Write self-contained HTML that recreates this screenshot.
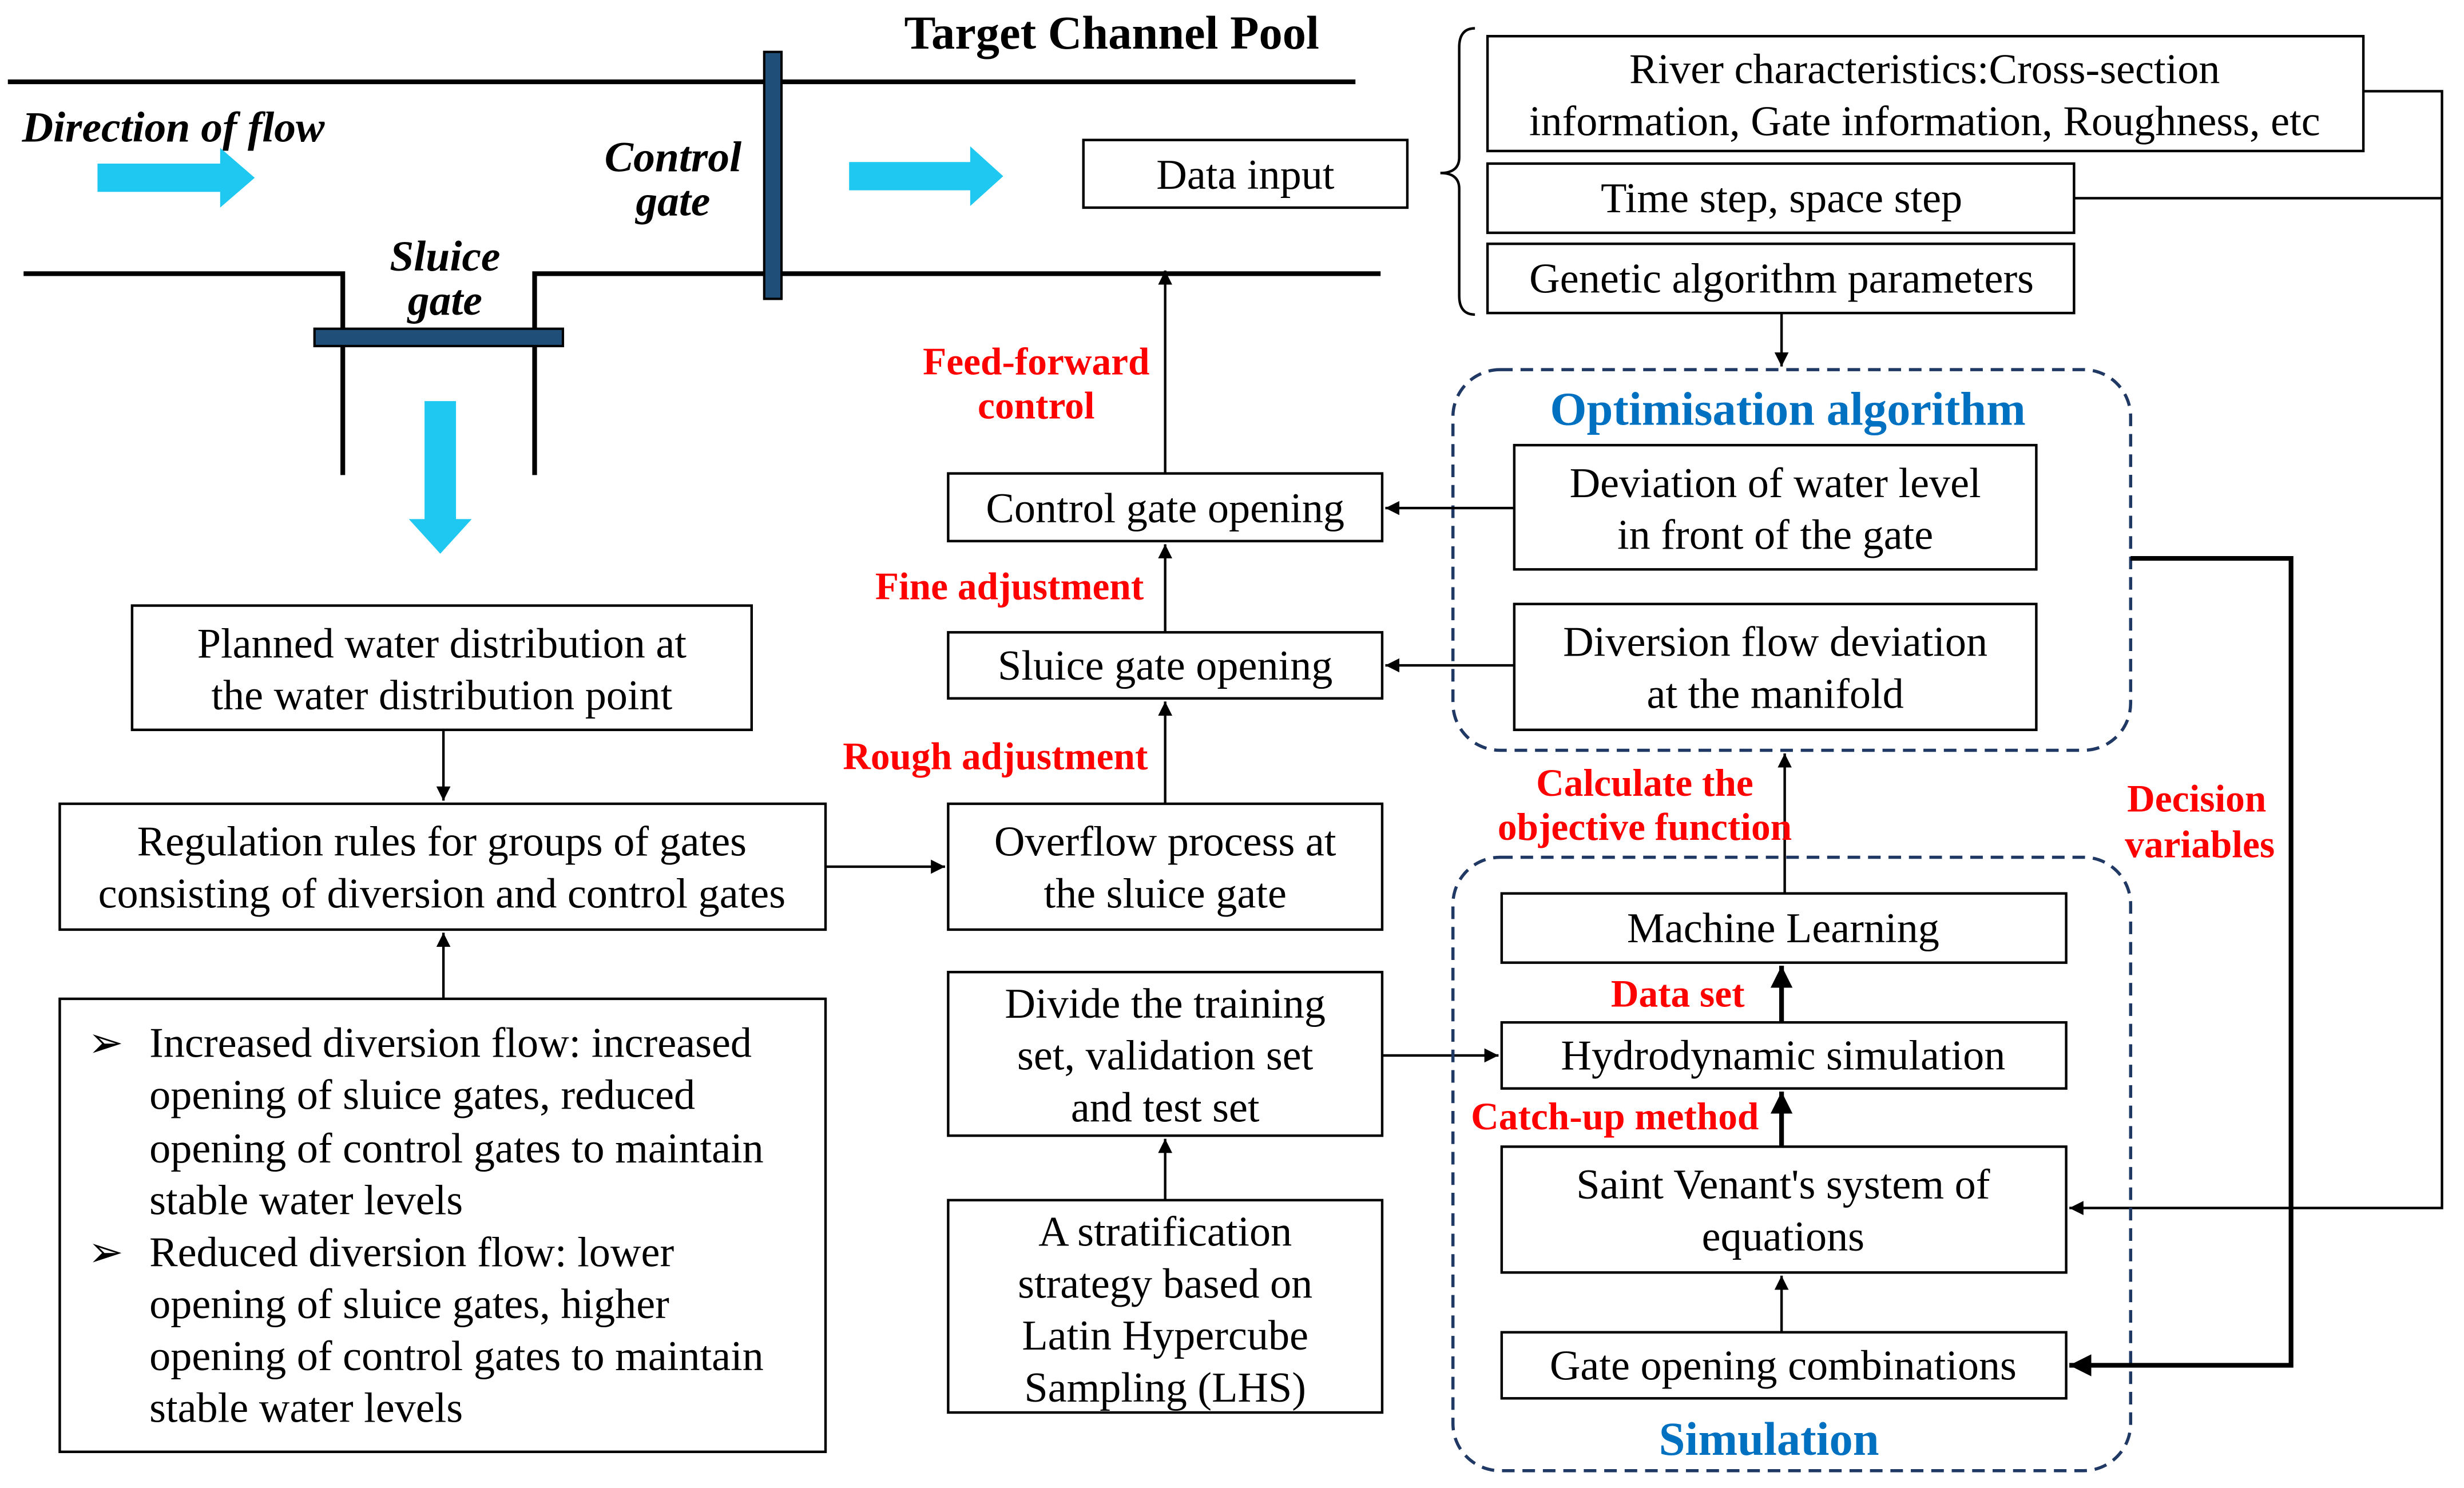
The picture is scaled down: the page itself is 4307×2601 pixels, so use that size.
<!DOCTYPE html>
<html><head><meta charset="utf-8"><style>
html,body{margin:0;padding:0;background:#fff}
svg{display:block}
text{font-family:"Liberation Serif",serif;fill:#000}
.t{font-size:27px;text-anchor:middle}
.r{font-size:24.5px;font-weight:bold;fill:#ff0000;text-anchor:middle}
.b{fill:#fff;stroke:#000;stroke-width:1.6}
.l{stroke:#000;stroke-width:1.6;fill:none}
</style></head><body>
<svg width="4307" height="2601" viewBox="0 0 1567 946" preserveAspectRatio="none" xmlns="http://www.w3.org/2000/svg">
<defs>
<marker id="a" viewBox="0 0 10 10" refX="10" refY="5" markerWidth="9" markerHeight="9" markerUnits="userSpaceOnUse" orient="auto"><path d="M0,0L10,5L0,10z" fill="#000"/></marker>
<marker id="a2" viewBox="0 0 10 10" refX="10" refY="5" markerWidth="14" markerHeight="14" markerUnits="userSpaceOnUse" orient="auto"><path d="M0,0L10,5L0,10z" fill="#000"/></marker>
</defs>
<rect width="1567" height="946" fill="#fff"/>
<text x="707" y="31" font-size="30" font-weight="bold" text-anchor="middle">Target Channel Pool</text>
<line x1="5" y1="52" x2="862" y2="52" stroke="#000" stroke-width="3"/>
<text x="14" y="90" font-size="27.5" font-weight="bold" font-style="italic">Direction of flow</text>
<path d="M62,104H140V94L162,113L140,132V122H62z" fill="#1ec8f0"/>
<path d="M540,103H617V93L638,112L617,131V121H540z" fill="#1ec8f0"/>
<path d="M15,174H218V302M340,302V174H878" stroke="#000" stroke-width="3" fill="none"/>
<rect x="486" y="33" width="11" height="157" fill="#1f4e79" stroke="#000" stroke-width="1.5"/>
<rect x="200" y="209" width="158" height="11" fill="#1f4e79" stroke="#000" stroke-width="1.5"/>
<text x="428" y="109" font-size="27.5" font-weight="bold" font-style="italic" text-anchor="middle">Control</text>
<text x="428" y="137" font-size="27.5" font-weight="bold" font-style="italic" text-anchor="middle">gate</text>
<text x="283" y="172" font-size="27.5" font-weight="bold" font-style="italic" text-anchor="middle">Sluice</text>
<text x="283" y="200" font-size="27.5" font-weight="bold" font-style="italic" text-anchor="middle">gate</text>
<path d="M270,255H290V330H300L280,352L260,330H270z" fill="#1ec8f0"/>

<rect class="b" x="689" y="89" width="206" height="43"/><text class="t" x="792" y="120">Data input</text>
<path class="l" d="M938,18Q928,18 928,30V100Q928,110 916,110Q928,110 928,120V188Q928,200 938,200"/>
<rect class="b" x="946" y="23" width="557" height="73"/>
<text class="t" x="1224" y="53">River characteristics:Cross-section</text>
<text class="t" x="1224" y="86">information, Gate information, Roughness, etc</text>
<rect class="b" x="946" y="104" width="373" height="44"/><text class="t" x="1133" y="135">Time step, space step</text>
<rect class="b" x="946" y="155" width="373" height="44"/><text class="t" x="1133" y="186">Genetic algorithm parameters</text>
<path class="l" d="M1503,58H1553V768H1316" marker-end="url(#a)"/>
<path class="l" d="M1319,126H1553"/>
<path class="l" d="M1133,199V233" marker-end="url(#a)"/>

<rect x="924" y="235" width="431" height="242" rx="30" fill="none" stroke="#1f3864" stroke-width="2" stroke-dasharray="8,5"/>
<text x="1137" y="270" font-size="30" font-weight="bold" text-anchor="middle" style="fill:#0070c0">Optimisation algorithm</text>
<rect class="b" x="963" y="283" width="332" height="79"/>
<text class="t" x="1129" y="316">Deviation of water level</text><text class="t" x="1129" y="349">in front of the gate</text>
<rect class="b" x="963" y="384" width="332" height="80"/>
<text class="t" x="1129" y="417">Diversion flow deviation</text><text class="t" x="1129" y="450">at the manifold</text>
<path class="l" d="M963,323H881" marker-end="url(#a)"/>
<path class="l" d="M963,423H881" marker-end="url(#a)"/>

<rect class="b" x="603" y="301" width="276" height="43"/><text class="t" x="741" y="332">Control gate opening</text>
<rect class="b" x="603" y="402" width="276" height="42"/><text class="t" x="741" y="432">Sluice gate opening</text>
<rect class="b" x="603" y="511" width="276" height="80"/>
<text class="t" x="741" y="544">Overflow process at</text><text class="t" x="741" y="577">the sluice gate</text>
<path class="l" d="M741,301V172" marker-end="url(#a)"/>
<path class="l" d="M741,402V346" marker-end="url(#a)"/>
<path class="l" d="M741,511V446" marker-end="url(#a)"/>
<text class="r" x="659" y="238">Feed-forward</text><text class="r" x="659" y="266">control</text>
<text class="r" x="642" y="381">Fine adjustment</text>
<text class="r" x="633" y="489">Rough adjustment</text>

<rect class="b" x="84" y="385" width="394" height="79"/>
<text class="t" x="281" y="418">Planned water distribution at</text><text class="t" x="281" y="451">the water distribution point</text>
<path class="l" d="M282,464V509" marker-end="url(#a)"/>
<rect class="b" x="38" y="511" width="487" height="80"/>
<text class="t" x="281" y="544">Regulation rules for groups of gates</text><text class="t" x="281" y="577">consisting of diversion and control gates</text>
<path class="l" d="M525,551H601" marker-end="url(#a)"/>
<rect class="b" x="38" y="635" width="487" height="288"/>
<path class="l" d="M282,635V593" marker-end="url(#a)"/>
<g font-size="27">
<text x="56" y="672">➢</text><text x="95" y="672">Increased diversion flow: increased</text>
<text x="95" y="705">opening of sluice gates, reduced</text>
<text x="95" y="739">opening of control gates to maintain</text>
<text x="95" y="772">stable water levels</text>
<text x="56" y="805">➢</text><text x="95" y="805">Reduced diversion flow: lower</text>
<text x="95" y="838">opening of sluice gates, higher</text>
<text x="95" y="871">opening of control gates to maintain</text>
<text x="95" y="904">stable water levels</text>
</g>

<rect class="b" x="603" y="618" width="276" height="104"/>
<text class="t" x="741" y="647">Divide the training</text><text class="t" x="741" y="680">set, validation set</text><text class="t" x="741" y="713">and test set</text>
<path class="l" d="M879,671H953" marker-end="url(#a)"/>
<rect class="b" x="603" y="763" width="276" height="135"/>
<text class="t" x="741" y="792">A stratification</text><text class="t" x="741" y="825">strategy based on</text><text class="t" x="741" y="858">Latin Hypercube</text><text class="t" x="741" y="891">Sampling (LHS)</text>
<path class="l" d="M741,763V724" marker-end="url(#a)"/>

<rect x="924" y="545" width="431" height="390" rx="30" fill="none" stroke="#1f3864" stroke-width="2" stroke-dasharray="8,5"/>
<text x="1125" y="925" font-size="30" font-weight="bold" text-anchor="middle" style="fill:#0070c0">Simulation</text>
<rect class="b" x="955" y="568" width="359" height="44"/><text class="t" x="1134" y="599">Machine Learning</text>
<rect class="b" x="955" y="650" width="359" height="42"/><text class="t" x="1134" y="680">Hydrodynamic simulation</text>
<rect class="b" x="955" y="729" width="359" height="80"/>
<text class="t" x="1134" y="762">Saint Venant's system of</text><text class="t" x="1134" y="795">equations</text>
<rect class="b" x="955" y="847" width="359" height="42"/><text class="t" x="1134" y="877">Gate opening combinations</text>
<path class="l" d="M1135,568V479" marker-end="url(#a)"/>
<path d="M1133,650V614" stroke="#000" stroke-width="3" marker-end="url(#a2)"/>
<path d="M1133,729V694" stroke="#000" stroke-width="3" marker-end="url(#a2)"/>
<path class="l" d="M1133,847V811" marker-end="url(#a)"/>
<text class="r" x="1046" y="506">Calculate the</text><text class="r" x="1046" y="534">objective function</text>
<text class="r" x="1067" y="640">Data set</text>
<text class="r" x="1027" y="718">Catch-up method</text>
<path d="M1355,355H1457V868H1316" stroke="#000" stroke-width="3" fill="none" marker-end="url(#a2)"/>
<text class="r" x="1397" y="516">Decision</text><text class="r" x="1399" y="545">variables</text>
</svg>
</body></html>
